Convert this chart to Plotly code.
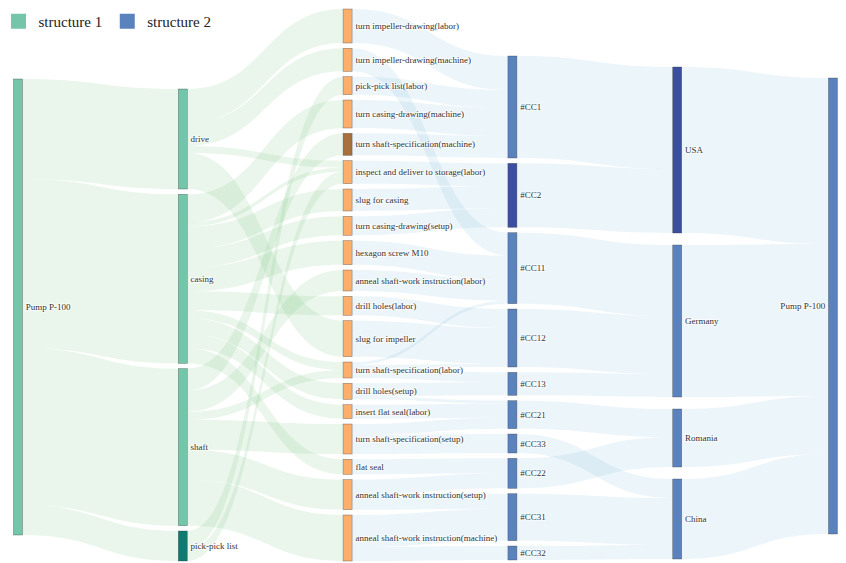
import plotly.graph_objects as go

# ---------------- data ----------------
node_labels = [
    "Pump P-100",
    "drive", "casing", "shaft", "pick-pick list",
    "turn impeller-drawing(labor)", "turn impeller-drawing(machine)", "pick-pick list(labor)",
    "turn casing-drawing(machine)", "turn shaft-specification(machine)",
    "inspect and deliver to storage(labor)", "slug for casing", "turn casing-drawing(setup)",
    "hexagon screw M10", "anneal shaft-work instruction(labor)", "drill holes(labor)",
    "slug for impeller", "turn shaft-specification(labor)", "drill holes(setup)",
    "insert flat seal(labor)", "turn shaft-specification(setup)", "flat seal",
    "anneal shaft-work instruction(setup)", "anneal shaft-work instruction(machine)",
    "#CC1", "#CC2", "#CC11", "#CC12", "#CC13", "#CC21", "#CC33", "#CC22", "#CC31", "#CC32",
    "USA", "Germany", "Romania", "China",
    "Pump P-100",
]

# column membership (in top-to-bottom order)
columns = [
    [0],
    [1, 2, 3, 4],
    list(range(5, 24)),
    list(range(24, 34)),
    [34, 35, 36, 37],
    [38],
]

node_colors = (
    ["#74c5a9"] * 4 + ["#0f7a72"]
    + ["#fdae6b"] * 4 + ["#a8713c"] + ["#fdae6b"] * 14
    + ["#5a83be", "#3a4fa0"] + ["#5a83be"] * 8
    + ["#3a4fa0", "#5a83be", "#5a83be", "#5a83be"]
    + ["#5a83be"]
)

link_source = [
    0, 0, 0, 0,                       # Pump -> parts
    1, 1, 1, 1,                       # drive
    2, 2, 2, 2, 2, 2, 2, 2, 2, 2,     # casing
    3, 3, 3, 3, 3, 3,                 # shaft
    4, 4,                             # pick-pick list
    5, 7, 8, 9,                       # -> #CC1
    10, 11, 12,                       # -> #CC2
    6, 13, 14, 17,                    # -> #CC11
    15, 16, 17,                       # -> #CC12
    17, 18,                           # -> #CC13
    18, 19, 20,                       # -> #CC21
    20,                               # -> #CC33
    21, 22,                           # -> #CC22
    22, 23,                           # -> #CC31
    23,                               # -> #CC32
    24, 25, 26, 27, 28, 29, 31, 30, 32, 33,
    34, 35, 36, 37,
]
link_target = [
    1, 2, 3, 4,
    5, 6, 16, 10,
    8, 11, 12, 13, 15, 18, 19, 21, 10, 17,
    9, 14, 20, 22, 23, 17,
    7, 10,
    24, 24, 24, 24,
    25, 25, 25,
    26, 26, 26, 26,
    27, 27, 27,
    28, 28,
    29, 29, 29,
    30,
    31, 31,
    32, 32,
    33,
    34, 34, 35, 35, 35, 36, 36, 37, 37, 37,
    38, 38, 38, 38,
]
link_value = [
    100, 169, 157, 30,
    34, 23, 36, 7,
    28, 22, 19, 24, 19, 16, 14, 15, 4, 8,
    22, 21, 30, 30, 46, 8,
    18, 12,
    34, 18, 28, 22,
    23, 22, 19,
    23, 24, 21, 3,
    19, 36, 3,
    10, 13,
    3, 14, 11,
    19,
    15, 15,
    15, 32,
    14,
    102, 64, 71, 58, 23, 28, 30, 19, 47, 14,
    166, 152, 58, 80,
]

legend_names = ["structure 1", "structure 2"]
legend_colors = ["#74c5a9", "#5a83be"]

# ---------------- layout helpers (built from the data) ----------------
OFF = 8                            # page offset of the figure inside the html body
W, H = 846 - OFF, 563 - OFF        # figure fills the visible window
PAGE_TOP, PAGE_BOTTOM = 9, 561     # vertical extent of the sankey on the page
PAGE_X0, PAGE_X1 = 17.5, 842.5     # plot area (first column centre / nominal right end)
M_L = PAGE_X0 - OFF
M_R = W - (PAGE_X1 - OFF)
M_T = PAGE_TOP - OFF
M_B = H - (PAGE_BOTTOM - OFF)
PAD = 96 / 18                      # gap in the densest column
col_top = [79, 89, 9, 56, 67, 78]  # top of each column (page px)
col_gap = [PAD, PAD, PAD, PAD, 12, PAD]
col_frac = [0, 0.2, 0.4, 0.6, 0.8, 0.989]   # horizontal column placement

ins = [0.0] * len(node_labels)
outs = [0.0] * len(node_labels)
for s, t, v in zip(link_source, link_target, link_value):
    outs[s] += v
    ins[t] += v
node_size = [max(a, b) for a, b in zip(ins, outs)]

plot_h = PAGE_BOTTOM - PAGE_TOP
node_x = [0.0] * len(node_labels)
node_y = [0.0] * len(node_labels)
for ci, col in enumerate(columns):
    y = col_top[ci]
    for n in col:
        h = node_size[n]
        node_x[n] = max(col_frac[ci], 1e-6)
        node_y[n] = (y + h / 2 - PAGE_TOP) / plot_h
        y += h + col_gap[ci]

GREEN_LINK = "rgba(116,196,118,0.15)"
BLUE_LINK = "rgba(107,174,214,0.13)"
link_colors = [GREEN_LINK if s <= 4 else BLUE_LINK for s in link_source]

SERIF = "Liberation Serif, Times New Roman, serif"

# ---------------- figure ----------------
fig = go.Figure()

fig.add_trace(go.Sankey(
    arrangement="fixed",
    domain=dict(x=[0, 1], y=[0, 1]),
    node=dict(
        label=node_labels,
        color=node_colors,
        x=node_x,
        y=node_y,
        pad=PAD,
        thickness=9,
        line=dict(color="rgba(60,60,60,0.55)", width=0.6),
    ),
    link=dict(source=link_source, target=link_target, value=link_value, color=link_colors),
    textfont=dict(family=SERIF, size=9, color="#333"),
))

for name, col in zip(legend_names, legend_colors):
    fig.add_trace(go.Scatter(
        x=[None], y=[None], mode="markers", name=name,
        marker=dict(symbol="square", size=15, color=col),
        showlegend=True, hoverinfo="skip",
    ))

plot_w = W - M_L - M_R
fig.update_layout(
    width=W, height=H,
    margin=dict(l=M_L, r=M_R, t=M_T, b=M_B, autoexpand=False),
    paper_bgcolor="white", plot_bgcolor="white",
    font=dict(family=SERIF, color="#222"),
    xaxis=dict(visible=False), yaxis=dict(visible=False),
    showlegend=True,
    legend=dict(
        orientation="h",
        x=(-10 - M_L) / plot_w, y=1 + (3 + M_T) / plot_h,
        xanchor="left", yanchor="top",
        font=dict(size=15, family=SERIF, color="#222"),
        bgcolor="rgba(0,0,0,0)", itemsizing="trace",
    ),
)

fig.write_html("out.html")
